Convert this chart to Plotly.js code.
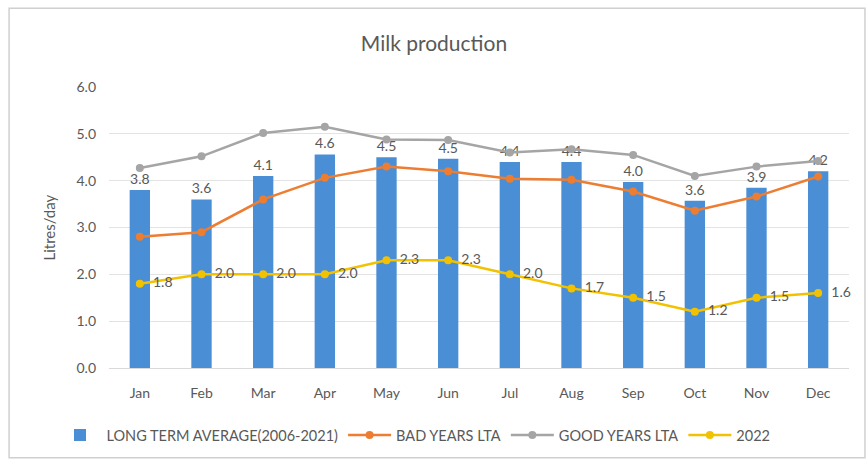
<!DOCTYPE html>
<html><head><meta charset="utf-8">
<script src="https://cdn.plot.ly/plotly-3.0.1.min.js"></script>
<style>html,body{margin:0;padding:0;background:#fff;}#chart{width:868px;height:462px;}</style>
</head><body><div id="chart"></div>
<script>
const months = ["Jan","Feb","Mar","Apr","May","Jun","Jul","Aug","Sep","Oct","Nov","Dec"];
const lta = [3.8,3.6,4.1,4.56,4.5,4.47,4.4,4.4,3.97,3.57,3.85,4.2];
const badYears = [2.8,2.9,3.6,4.06,4.3,4.2,4.04,4.02,3.77,3.36,3.66,4.09];
const goodYears = [4.27,4.52,5.02,5.15,4.88,4.87,4.6,4.67,4.55,4.1,4.3,4.42];
const y2022 = [1.8,2.0,2.0,2.0,2.3,2.3,2.0,1.7,1.5,1.2,1.5,1.6];

const font = "Lato, 'Open Sans', sans-serif";
const txt = "#595959";
const traces = [
  {type:"bar", name:"LONG TERM AVERAGE(2006-2021)", x:months, y:lta,
   marker:{color:"#4a8fd6"}, text:lta.map(v=>v.toFixed(1)), textposition:"outside",
   textfont:{color:txt,size:14,family:font}, cliponaxis:false, hoverinfo:"x+y"},
  {type:"scatter", mode:"lines+markers", name:"BAD YEARS LTA", x:months, y:badYears,
   line:{color:"#ED7D31",width:2.5}, marker:{color:"#ED7D31",size:8}},
  {type:"scatter", mode:"lines+markers", name:"GOOD YEARS LTA", x:months, y:goodYears,
   line:{color:"#A5A5A5",width:2.5}, marker:{color:"#A5A5A5",size:8}},
  {type:"scatter", mode:"lines+markers+text", name:"2022", x:months, y:y2022,
   line:{color:"#F2C200",width:2.5}, marker:{color:"#F2C200",size:8},
   text:y2022.map(v=>"  "+v.toFixed(1)), textposition:"middle right",
   textfont:{color:txt,size:14,family:font}, cliponaxis:false}
];
const layout = {
  width:868, height:462,
  margin:{l:109,r:19,t:87,b:93},
  paper_bgcolor:"#fff", plot_bgcolor:"#fff",
  font:{family:font,color:txt,size:13},
  title:{text:"Milk production", x:0.5, xanchor:"center", y:0.905, yanchor:"middle",
         font:{size:21,color:txt,family:font}},
  bargap:0.67,
  xaxis:{type:"category", range:[-0.5,11.5], autorange:false, showgrid:false, zeroline:false,
         showline:true, linecolor:"#d9d9d9",
         ticks:"", tickfont:{size:14,color:txt}, ticklabelstandoff:12, automargin:false},
  yaxis:{range:[0,6], dtick:1, tickformat:".1f", showgrid:true, gridcolor:"#e3e3e3",
         zeroline:false, showline:false, ticks:"", tickfont:{size:14,color:txt},
         ticklabelstandoff:12, automargin:false},
  annotations:[{text:"Litres/day", xref:"paper", yref:"paper", x:-0.0824, y:0.5,
                xanchor:"center", yanchor:"middle", textangle:-90, showarrow:false,
                font:{size:15,color:txt,family:font}}],
  legend:{orientation:"h", x:-0.075, xanchor:"left", y:-0.234, yanchor:"middle",
          font:{size:14.5,color:txt,family:font}, traceorder:"normal", itemwidth:43},
  showlegend:true,
  shapes:[{type:"rect", xref:"paper", yref:"paper", x0:-0.135, x1:1.0216, y0:-0.319, y1:1.28,
           line:{color:"#d0d0d0",width:1.5}, fillcolor:"rgba(0,0,0,0)"}]
};
Plotly.newPlot("chart", traces, layout, {displayModeBar:false, staticPlot:true});
</script></body></html>
